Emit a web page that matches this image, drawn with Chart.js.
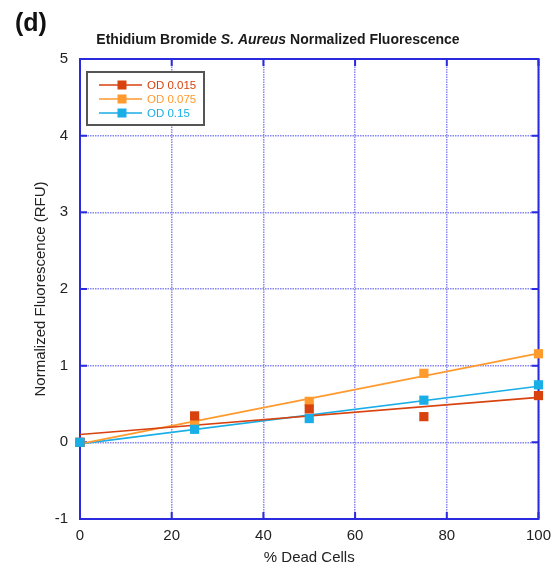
<!DOCTYPE html>
<html>
<head>
<meta charset="utf-8">
<script src="https://cdn.jsdelivr.net/npm/chart.js@4/dist/chart.umd.min.js"></script>
<style>
  html, body { margin: 0; padding: 0; background: #fff; }
</style>
</head>
<body>
<canvas id="fluorChart" width="559" height="571"></canvas>
<script>
// % de células muertas en cada muestra
const deadCells = [0, 25, 50, 75, 100];

// Fluorescencia normalizada (RFU) para cada densidad óptica
const od015 = [0, 0.345, 0.435, 0.335, 0.61];
const od075 = [0, 0.26, 0.535, 0.90, 1.155];
const od15 = [0, 0.17, 0.31, 0.55, 0.75];

const seriesLabels = ['OD 0.015', 'OD 0.075', 'OD 0.15'];
const seriesColors = ['#d8420f', '#ff9a2e', '#19aee6'];

const xTicks = [0, 20, 40, 60, 80, 100];
const yTicks = [-1, 0, 1, 2, 3, 4, 5];

const FONT = '"Liberation Sans", Arial, Helvetica, sans-serif';
const FRAME = '#2a2ade';
const GRID = '#8686f4';

// Recta de mínimos cuadrados a partir de los puntos medidos
function linearFit(xs, ys) {
    let n = xs.length;
    let mx = xs.reduce((a, b) => a + b, 0) / n;
    let my = ys.reduce((a, b) => a + b, 0) / n;
    let sxy = 0, sxx = 0;
    for (let i = 0; i < n; i++) {
        sxy += (xs[i] - mx) * (ys[i] - my);
        sxx += (xs[i] - mx) * (xs[i] - mx);
    }
    let slope = sxy / sxx;
    let b = my - slope * mx;
    let x0 = xTicks[0], x1 = xTicks[xTicks.length - 1];
    return [{ x: x0, y: b + slope * x0 }, { x: x1, y: b + slope * x1 }];
}

function toPoints(ys) {
    return deadCells.map((x, i) => ({ x: x, y: ys[i] }));
}

const allSeries = [od015, od075, od15];
// orden de dibujo: azul encima, luego rojo, luego naranja
const pointOrder = [2, 3, 1];

let datasets = [];
allSeries.forEach((ys, i) => {
    datasets.push({
        label: seriesLabels[i],
        data: toPoints(ys),
        showLine: false,
        clip: false,
        pointStyle: 'rect',
        pointRadius: 6.5,
        pointHoverRadius: 6.5,
        pointBorderWidth: 0,
        backgroundColor: seriesColors[i],
        borderColor: seriesColors[i],
        order: pointOrder[i]
    });
});
allSeries.forEach((ys, i) => {
    datasets.push({
        label: seriesLabels[i] + ' ajuste',
        data: linearFit(deadCells, ys),
        showLine: true,
        clip: false,
        pointRadius: 0,
        borderWidth: 1.6,
        borderColor: seriesColors[i],
        backgroundColor: seriesColors[i],
        order: 10 + i
    });
});

// Marco, marcas interiores, título y leyenda
const decorPlugin = {
    id: 'decor',
    beforeDatasetsDraw(chart) {
        const ctx = chart.ctx;
        const a = chart.chartArea;
        const xs = chart.scales.x, ys = chart.scales.y;
        ctx.save();
        ctx.strokeStyle = FRAME;
        ctx.lineWidth = 2;
        ctx.setLineDash([]);
        ctx.strokeRect(a.left, a.top, a.right - a.left, a.bottom - a.top);
        const len = 7;
        ctx.beginPath();
        xTicks.forEach(v => {
            let px = xs.getPixelForValue(v);
            ctx.moveTo(px, a.bottom); ctx.lineTo(px, a.bottom - len);
            ctx.moveTo(px, a.top); ctx.lineTo(px, a.top + len);
        });
        yTicks.forEach(v => {
            let py = ys.getPixelForValue(v);
            ctx.moveTo(a.left, py); ctx.lineTo(a.left + len, py);
            ctx.moveTo(a.right, py); ctx.lineTo(a.right - len, py);
        });
        ctx.stroke();
        ctx.restore();
    },
    afterDraw(chart) {
        const ctx = chart.ctx;
        ctx.save();
        ctx.fillStyle = '#111';
        ctx.textBaseline = 'middle';

        // Etiqueta del panel
        ctx.font = 'bold 25px ' + FONT;
        ctx.textAlign = 'left';
        ctx.fillText('(d)', 15, 24);

        // Título con el nombre de la especie en cursiva
        const parts = [
            { t: 'Ethidium Bromide ', f: 'bold 14px ' + FONT },
            { t: 'S. Aureus', f: 'italic bold 14px ' + FONT },
            { t: ' Normalized Fluorescence', f: 'bold 14px ' + FONT }
        ];
        let total = 0;
        parts.forEach(p => { ctx.font = p.f; p.w = ctx.measureText(p.t).width; total += p.w; });
        let x = 278 - total / 2;
        ctx.fillStyle = '#1a1a1a';
        parts.forEach(p => { ctx.font = p.f; ctx.fillText(p.t, x, 40); x += p.w; });

        // Leyenda
        const bx = 87, by = 72, bw = 117, bh = 53;
        ctx.fillStyle = '#fff';
        ctx.fillRect(bx, by, bw, bh);
        ctx.strokeStyle = '#555';
        ctx.lineWidth = 2;
        ctx.strokeRect(bx, by, bw, bh);
        ctx.font = '11.5px ' + FONT;
        seriesLabels.forEach((lab, i) => {
            let ry = 85 + i * 14;
            ctx.strokeStyle = seriesColors[i];
            ctx.lineWidth = 1.6;
            ctx.beginPath();
            ctx.moveTo(99, ry); ctx.lineTo(142, ry);
            ctx.stroke();
            ctx.fillStyle = seriesColors[i];
            ctx.fillRect(117.5, ry - 4.5, 9, 9);
            ctx.fillText(lab, 147, ry + 0.5);
        });
        ctx.restore();
    }
};

const ctx = document.getElementById('fluorChart').getContext('2d');
const chart = new Chart(ctx, {
    type: 'scatter',
    data: { datasets: datasets },
    options: {
        responsive: false,
        animation: false,
        events: [],
        layout: { padding: { top: 59, right: 20, left: 0, bottom: 0 } },
        plugins: {
            legend: { display: false },
            tooltip: { enabled: false },
            title: { display: false }
        },
        scales: {
            x: {
                type: 'linear',
                min: 0,
                max: 100,
                afterFit: (scale) => { scale.height = 52; },
                afterBuildTicks: (scale) => { scale.ticks = xTicks.map(v => ({ value: v })); },
                ticks: {
                    color: '#222',
                    font: { family: FONT, size: 15 },
                    padding: 8,
                    maxRotation: 0
                },
                grid: { color: GRID, lineWidth: 1.5, drawTicks: false },
                border: { display: false, dash: [1.5, 1] },
                title: {
                    display: true,
                    text: '% Dead Cells',
                    color: '#222',
                    font: { family: FONT, size: 15 },
                    padding: { top: 0, bottom: 4 }
                }
            },
            y: {
                type: 'linear',
                min: -1,
                max: 5,
                afterFit: (scale) => { scale.width = 80; },
                afterBuildTicks: (scale) => { scale.ticks = yTicks.map(v => ({ value: v })); },
                ticks: {
                    color: '#222',
                    font: { family: FONT, size: 15 },
                    padding: 12
                },
                grid: { color: GRID, lineWidth: 1.5, drawTicks: false },
                border: { display: false, dash: [1.5, 1] },
                title: {
                    display: true,
                    text: 'Normalized Fluorescence (RFU)',
                    color: '#222',
                    font: { family: FONT, size: 15 },
                    padding: { top: 32, bottom: 0 }
                }
            }
        }
    },
    plugins: [decorPlugin]
});
</script>
</body>
</html>
